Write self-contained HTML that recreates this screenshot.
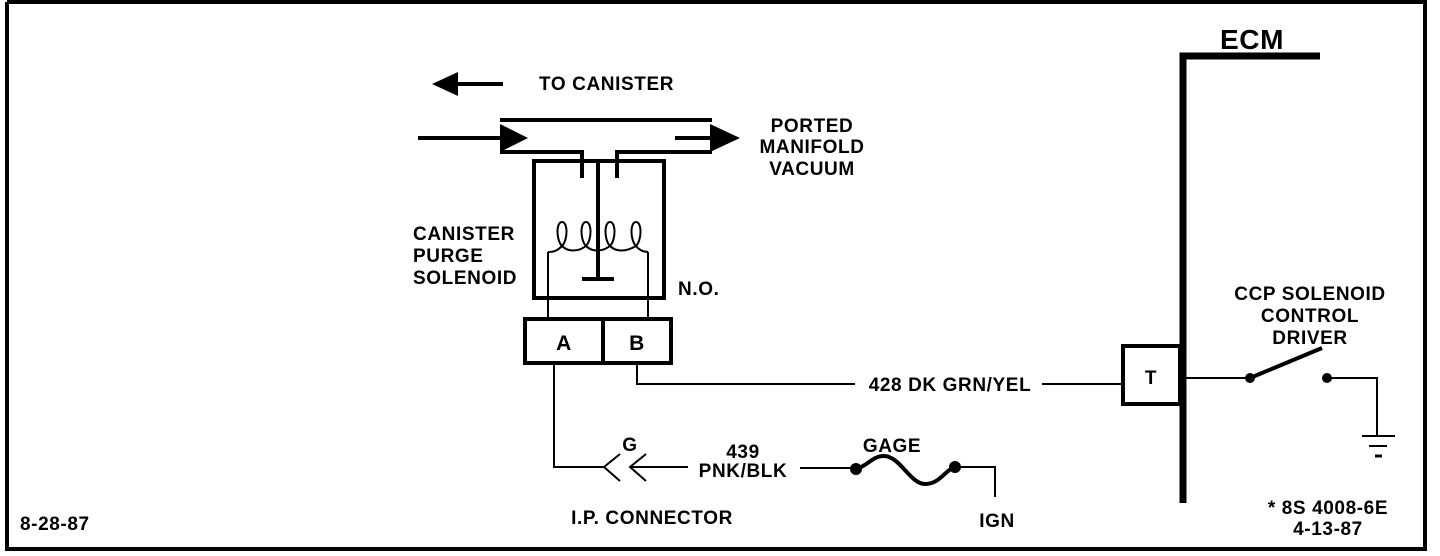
<!DOCTYPE html>
<html><head><style>
html,body{margin:0;padding:0;background:#fff;}
svg{display:block;}
text{font-family:"Liberation Sans",sans-serif;font-weight:bold;fill:#000;}
</style></head><body>
<svg width="1440" height="556" viewBox="0 0 1440 556" xmlns="http://www.w3.org/2000/svg" font-size="19" letter-spacing="0.6">
<g stroke="#000" fill="none">
<path d="M7 2 V549 H1425 V2 H7" stroke-width="4"/>
<line x1="450" y1="84" x2="503" y2="84" stroke-width="4"/>
<line x1="500" y1="120" x2="712" y2="120" stroke-width="4"/>
<path d="M500 152 H582 V178" stroke-width="4"/>
<path d="M712 152 H617 V178" stroke-width="4"/>
<line x1="418" y1="138" x2="510" y2="138" stroke-width="4"/>
<line x1="675" y1="138" x2="715" y2="138" stroke-width="4"/>
<rect x="534" y="161" width="130" height="137" stroke-width="4"/>
<line x1="598" y1="163" x2="598" y2="277" stroke-width="4"/>
<line x1="582" y1="279" x2="614" y2="279" stroke-width="4"/>
<path d="M548 252 C555 252 558 250 562 246 C556 240 556 222 562 222 C568 222 568 240 562 246 C568 252 578 252 586 246 C580 240 580 222 586 222 C592 222 592 240 586 246 C592 252 602 252 610 246 C604 240 604 222 610 222 C616 222 616 240 610 246 C616 252 626 252 636 246 C630 240 630 222 636 222 C642 222 642 240 636 246 C640 251 645 252 648 252" stroke-width="2"/>
<line x1="548" y1="252" x2="548" y2="318" stroke-width="2"/>
<line x1="648" y1="252" x2="648" y2="318" stroke-width="2"/>
<rect x="525" y="319" width="146" height="44" stroke-width="4"/>
<line x1="603" y1="319" x2="603" y2="363" stroke-width="4"/>
<path d="M554 363 V467 H604" stroke-width="2"/>
<path d="M637 363 V384 H855" stroke-width="2"/>
<line x1="1042" y1="384" x2="1122" y2="384" stroke-width="2"/>
<path d="M620 454 L604 467 L620 481" stroke-width="2"/>
<path d="M646 454 L630 467 L646 481" stroke-width="2"/>
<line x1="630" y1="467" x2="688" y2="467" stroke-width="2"/>
<line x1="800" y1="468" x2="856" y2="468" stroke-width="2"/>
<path d="M856 469 C868 466 872 456 884 456 C900 456 910 484 925 484 C940 484 945 470 955 467" stroke-width="4"/>
<path d="M955 467 H995 V497" stroke-width="2"/>
<path d="M1183 503 V56 H1320" stroke-width="7"/>
<rect x="1123" y="346" width="57" height="58" stroke-width="4"/>
<line x1="1183" y1="378" x2="1250" y2="378" stroke-width="2"/>
<line x1="1250" y1="378" x2="1322" y2="348" stroke-width="4"/>
<path d="M1327 378 H1377 V435" stroke-width="2"/>
<line x1="1362" y1="436" x2="1395" y2="436" stroke-width="2"/>
<line x1="1369" y1="446" x2="1387" y2="446" stroke-width="2"/>
<line x1="1375" y1="456" x2="1382" y2="456" stroke-width="3"/>
</g>
<g fill="#000">
<polygon points="432,84 458,72 458,96"/>
<polygon points="500,124 528,138 500,152"/>
<polygon points="710,124 740,138 710,152"/>
<circle cx="1250" cy="378" r="5"/>
<circle cx="1327" cy="378" r="5"/>
<circle cx="856" cy="469" r="6"/>
<circle cx="955" cy="467" r="6"/>
</g>
<text x="539" y="90">TO CANISTER</text>
<text x="812" y="132" text-anchor="middle">PORTED</text>
<text x="812" y="153" text-anchor="middle">MANIFOLD</text>
<text x="812" y="175" text-anchor="middle">VACUUM</text>
<text x="413" y="240">CANISTER</text>
<text x="413" y="262">PURGE</text>
<text x="413" y="284">SOLENOID</text>
<text x="678" y="295">N.O.</text>
<text x="564" y="350" text-anchor="middle" font-size="21">A</text>
<text x="637" y="350" text-anchor="middle" font-size="21">B</text>
<text x="950" y="391" text-anchor="middle">428 DK GRN/YEL</text>
<text x="630" y="451" text-anchor="middle">G</text>
<text x="743" y="458" text-anchor="middle">439</text>
<text x="743" y="477" text-anchor="middle">PNK/BLK</text>
<text x="892" y="452" text-anchor="middle">GAGE</text>
<text x="652" y="524" text-anchor="middle">I.P. CONNECTOR</text>
<text x="997" y="527" text-anchor="middle">IGN</text>
<text x="20" y="530">8-28-87</text>
<text x="1252" y="49" text-anchor="middle" font-size="28">ECM</text>
<text x="1151" y="384" text-anchor="middle">T</text>
<text x="1310" y="300" text-anchor="middle">CCP SOLENOID</text>
<text x="1310" y="322" text-anchor="middle">CONTROL</text>
<text x="1310" y="344" text-anchor="middle">DRIVER</text>
<text x="1328" y="514" text-anchor="middle">* 8S 4008-6E</text>
<text x="1328" y="535" text-anchor="middle">4-13-87</text>
</svg>
</body></html>
